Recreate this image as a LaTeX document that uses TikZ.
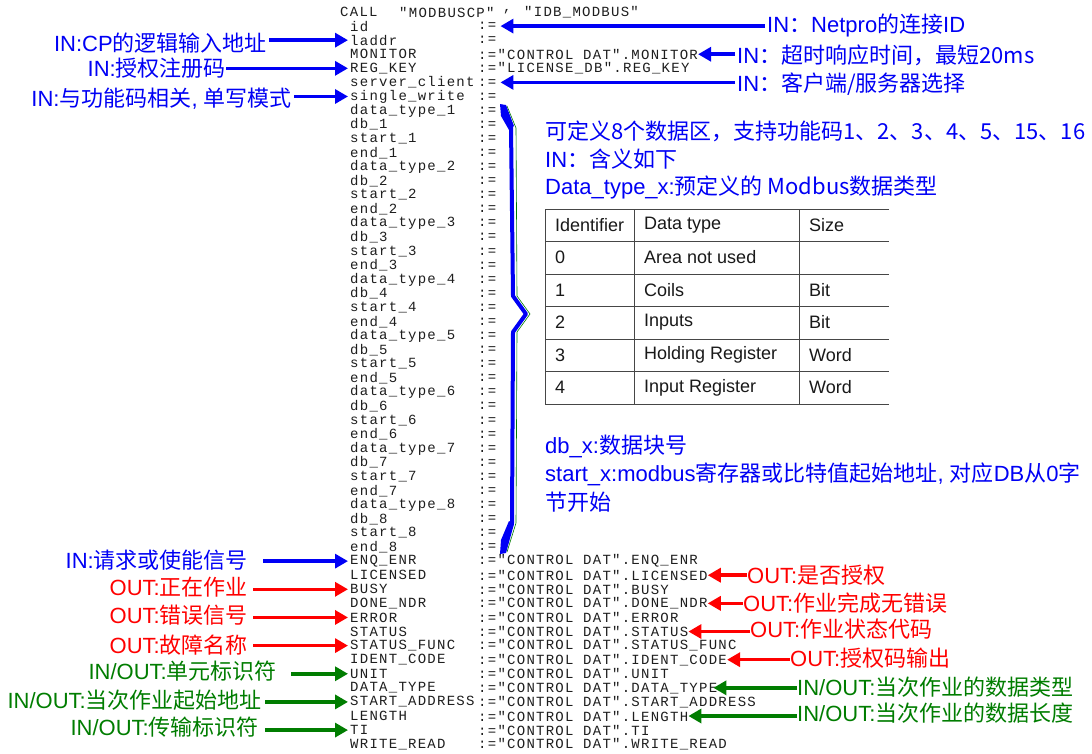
\documentclass[tikz,border=0pt]{standalone}
\usepackage{fontspec}
\setmainfont{Liberation Sans}
\newfontfamily\cjk{Noto Sans CJK SC}
\newfontfamily\codefont[LetterSpace=9]{Liberation Mono}
\usetikzlibrary{arrows.meta}
\definecolor{myblue}{RGB}{0,0,245}
\definecolor{myred}{RGB}{255,0,0}
\definecolor{mygreen}{RGB}{0,125,0}
\definecolor{codegray}{RGB}{30,30,30}
\definecolor{tabtext}{RGB}{25,25,25}
\definecolor{tabline}{RGB}{70,70,70}
\newcommand\zh[1]{{\cjk #1}}
\newcommand\qmark{″}
\newcommand\msp{\hspace*{9.65pt}}
\tikzset{
 code/.style={anchor=west, inner sep=0pt, font=\codefont\fontsize{14}{14}\selectfont, text=codegray},
 lab/.style={inner sep=0pt, font=\fontsize{22}{26}\selectfont},
 lableft/.style={lab, anchor=east},
 labright/.style={lab, anchor=west},
 note/.style={lab, anchor=west, text=myblue},
 arr/.style={line width=3.5pt, -{Triangle[length=13pt,width=14pt]}},
 barr/.style={arr, myblue}, rarr/.style={arr, myred}, garr/.style={arr, mygreen},
 cell/.style={anchor=west, inner sep=0pt, font=\fontsize{18}{20}\selectfont, text=tabtext},
}
\begin{document}
\begin{tikzpicture}[x=1pt,y=-1pt]
\useasboundingbox (0,0) rectangle (1092,753);
\fill[white] (0,0) rectangle (1092,753);

% ---- code listing ----
\node[code] (call) at (340,12) {CALL};
\node[code] (call1) at (399,12) {\qmark MODBUSCP\qmark};
\node[code] (call2) at (503,12) {,};
\node[code] (call3) at (524,12) {\qmark IDB\_MODBUS\qmark};

\foreach \nm [count=\i] in {id,laddr,MONITOR,REG\_KEY,server\_client,single\_write}
  {\node[code] (n\i) at (350,{12+14.08*\i}) {\nm};}
\node[code] (a1) at (478,{12+14.08*1}) {:=};
\node[code] (a2) at (478,{12+14.08*2}) {:=};
\node[code] (a3) at (478,{12+14.08*3}) {:=\qmark CONTROL\msp DAT\qmark.MONITOR};
\node[code] (a4) at (478,{12+14.08*4}) {:=\qmark LICENSE\_DB\qmark.REG\_KEY};
\node[code] (a5) at (478,{12+14.08*5}) {:=};
\node[code] (a6) at (478,{12+14.08*6}) {:=};

\foreach \k in {1,...,8}{
  \foreach \f [count=\j from 0] in {data\_type\_,db\_,start\_,end\_}{
    \pgfmathtruncatemacro\idx{7+4*(\k-1)+\j}
    \node[code] (n\idx) at (350,{12+14.08*\idx}) {\f\k};
    \node[code] (a\idx) at (478,{12+14.08*\idx}) {:=};
  }
}

\foreach \nm [count=\i from 39] in {ENQ\_ENR,LICENSED,BUSY,DONE\_NDR,ERROR,STATUS,STATUS\_FUNC,IDENT\_CODE,UNIT,DATA\_TYPE,START\_ADDRESS,LENGTH,TI,WRITE\_READ}{
  \node[code] (n\i) at (350,{12+14.08*\i}) {\nm};
  \node[code] (a\i) at (478,{12+14.08*\i}) {:=\qmark CONTROL\msp DAT\qmark.\nm};
}

% ---- brace ----
\draw[mygreen, line width=0.6pt] (507,106) -- (516,128) -- (517,296) -- (530,314) -- (517,332) -- (516,523) -- (507,552);
\draw[myblue, line width=4pt, line join=round] (503,108) -- (511,127) -- (513,296) -- (526,314) -- (513,332) -- (512,523) -- (503,550);
\fill[myblue] (500,104) -- (506,105) -- (514,126) -- (509,130) -- (501,116) -- cycle;
\fill[myblue] (500,554) -- (506,553) -- (514,524) -- (509,521) -- (501,540) -- cycle;

% ---- top left labels ----
\node[lableft, text=myblue] (L1) at (267,43) {IN:CP\zh{的逻辑输入地址}};
\node[lableft, text=myblue] (L2) at (226,68) {IN:\zh{授权注册码}};
\node[lableft, text=myblue] (L3) at (292,99) {IN:\zh{与功能码相关}, \zh{单写模式}};
\draw[barr, shorten <=2pt, shorten >=2pt] (L1.east |- n2.west) -- (n2.west);
\draw[barr, shorten >=2pt] (L2.east |- n4.west) -- (n4.west);
\draw[barr, shorten <=2pt, shorten >=2pt] (L3.east |- n6.west) -- (n6.west);

% ---- top right labels ----
\node[labright, text=myblue] (R1) at (767,25) {IN\zh{：}Netpro\zh{的连接}ID};
\node[labright, text=myblue] (R2) at (737,55) {IN\zh{：超时响应时间，最短20ms}};
\node[labright, text=myblue] (R3) at (737,84) {IN\zh{：客户端/服务器选择}};
\draw[barr, shorten <=2pt, shorten >=4pt] (R1.west |- a1.east) -- (a1.east);
\draw[barr, shorten <=2pt] (R2.west |- a3.east) -- (a3.east);
\draw[barr, shorten <=2pt, shorten >=4pt] (R3.west |- a5.east) -- (a5.east);

% ---- middle notes ----
\node[note] (N1) at (545,131) {\zh{可定义8个数据区，支持功能码1、2、3、4、5、15、16}};
\node[note] (N2) at (545,159) {IN\zh{：含义如下}};
\node[note] (N3) at (545,187) {Data\_type\_x:\zh{预定义的 Modbus数据类型}};
\node[note] (N4) at (545,446) {db\_x:\zh{数据块号}};
\node[note] (N5) at (545,474) {start\_x:modbus\zh{寄存器或比特值起始地址}, \zh{对应}DB\zh{从}0\zh{字}};
\node[note] (N6) at (545,502) {\zh{节开始}};

% ---- table ----
\draw[tabline, line width=0.9pt] (889,209) -- (545,209) -- (545,404) -- (889,404);
\foreach \yy in {241.5,274,306.5,339,371.5} \draw[tabline, line width=0.9pt] (545,\yy) -- (889,\yy);
\draw[tabline, line width=0.9pt] (634,209) -- (634,404);
\draw[tabline, line width=0.9pt] (799,209) -- (799,404);
\node[cell] (t11) at (555,225) {Identifier};
\node[cell] (t12) at (644,225) {Data type};
\node[cell] (t13) at (809,225) {Size};
\node[cell] (t21) at (555,257.5) {0};
\node[cell] (t22) at (644,257.5) {Area not used};
\node[cell] (t31) at (555,290) {1};
\node[cell] (t32) at (644,290) {Coils};
\node[cell] (t33) at (809,290) {Bit};
\node[cell] (t41) at (555,322.5) {2};
\node[cell] (t42) at (644,322.5) {Inputs};
\node[cell] (t43) at (809,322.5) {Bit};
\node[cell] (t51) at (555,355) {3};
\node[cell] (t52) at (644,355) {Holding Register};
\node[cell] (t53) at (809,355) {Word};
\node[cell] (t61) at (555,387.5) {4};
\node[cell] (t62) at (644,387.5) {Input Register};
\node[cell] (t63) at (809,387.5) {Word};

% ---- bottom left labels ----
\node[lableft, text=myblue] (B1) at (248,560) {IN:\zh{请求或使能信号}};
\node[lableft, text=myred] (B2) at (248,587) {OUT:\zh{正在作业}};
\node[lableft, text=myred] (B3) at (248,615) {OUT:\zh{错误信号}};
\node[lableft, text=myred] (B4) at (248,645) {OUT:\zh{故障名称}};
\node[lableft, text=mygreen] (B5) at (277,671) {IN/OUT:\zh{单元标识符}};
\node[lableft, text=mygreen] (B6) at (262,700) {IN/OUT:\zh{当次作业起始地址}};
\node[lableft, text=mygreen] (B7) at (259,727) {IN/OUT:\zh{传输标识符}};
\draw[barr, shorten <=15pt, shorten >=2pt] (B1.east |- n39.west) -- (n39.west);
\draw[rarr, shorten <=5pt, shorten >=2pt] (B2.east |- n41.west) -- (n41.west);
\draw[rarr, shorten <=5pt, shorten >=2pt] (B3.east |- n43.west) -- (n43.west);
\draw[rarr, shorten <=5pt, shorten >=2pt] (B4.east |- n45.west) -- (n45.west);
\draw[garr, shorten <=14pt, shorten >=2pt] (B5.east |- n47.west) -- (n47.west);
\draw[garr, shorten <=3pt, shorten >=2pt] (B6.east |- n49.west) -- (n49.west);
\draw[garr, shorten <=6pt, shorten >=2pt] (B7.east |- n51.west) -- (n51.west);

% ---- bottom right labels ----
\node[labright, text=myred] (C1) at (747,575) {OUT:\zh{是否授权}};
\node[labright, text=myred] (C2) at (743,603) {OUT:\zh{作业完成无错误}};
\node[labright, text=myred] (C3) at (750,629) {OUT:\zh{作业状态代码}};
\node[labright, text=myred] (C4) at (790,658) {OUT:\zh{授权码输出}};
\node[labright, text=mygreen] (C5) at (797,687) {IN/OUT:\zh{当次作业的数据类型}};
\node[labright, text=mygreen] (C6) at (797,713) {IN/OUT:\zh{当次作业的数据长度}};
\draw[rarr] (C1.west |- a40.east) -- (a40.east);
\draw[rarr] (C2.west |- a42.east) -- (a42.east);
\draw[rarr] (C3.west |- a44.east) -- (a44.east);
\draw[rarr] (C4.west |- a46.east) -- (a46.east);
\draw[garr, shorten >=-4pt] (C5.west |- a48.east) -- (a48.east);
\draw[garr] (C6.west |- a50.east) -- (a50.east);
\end{tikzpicture}
\end{document}
